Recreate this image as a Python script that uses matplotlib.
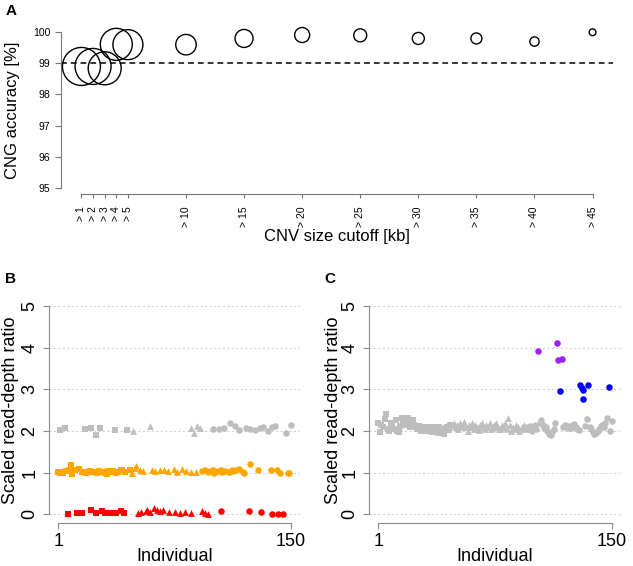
import numpy as np
import matplotlib
matplotlib.use("Agg")
import matplotlib.pyplot as plt

plt.rcParams['font.family'] = ['Liberation Sans', 'DejaVu Sans']

# ---- panel A data
cutoffs = [1, 2, 3, 4, 5, 10, 15, 20, 25, 30, 35, 40, 45]
accuracy = [98.90, 98.90, 98.84, 99.61, 99.60, 99.60, 99.80, 99.91, 99.90, 99.80, 99.80, 99.70, 100.0]
circle_px = [38, 36, 33, 32, 30, 20.5, 18, 15, 13, 12, 11, 9.3, 6.8]  # marker diameters in px
cutoff_labels = ['> 1', '> 2', '> 3', '> 4', '> 5', '> 10', '> 15', '> 20', '> 25',
                 '> 30', '> 35', '> 40', '> 45']

# ---- panel B data (gray = 2 copies, orange = 1, red = 0)
b_gray_sq_x = [2, 5, 18, 22, 25, 28, 37, 45]
b_gray_sq_y = [2.02, 2.08, 2.05, 2.07, 1.90, 2.08, 2.03, 2.03]
b_gray_tri_x = [49, 60, 86, 88, 90, 92]
b_gray_tri_y = [2.00, 2.12, 2.06, 1.96, 2.12, 2.06]
b_gray_ci_x = [100, 104, 107, 111, 114, 117, 121, 124, 127, 130, 132, 135, 138, 140, 147, 150]
b_gray_ci_y = [2.05, 2.05, 2.06, 2.20, 2.12, 2.02, 2.06, 2.05, 2.02, 2.06, 2.10, 2.00,
               2.09, 2.12, 1.96, 2.14]

b_orange_sq_x = [1, 2, 3, 4, 6, 8, 9, 10, 12, 14, 16, 19, 20, 21, 23, 26, 27, 29, 31, 32,
                 33, 34, 36, 38, 39, 41, 42, 44, 47]
b_orange_sq_y = [1.02, 1.00, 1.01, 1.00, 1.04, 1.06, 1.18, 0.96, 1.06, 1.09, 1.02, 1.00,
                 1.02, 1.04, 1.02, 1.00, 1.03, 1.02, 1.00, 0.96, 1.03, 1.02, 1.04, 1.00,
                 1.02, 1.06, 1.05, 1.02, 1.05]
b_orange_tri_x = [48, 50, 51, 53, 55, 61, 63, 66, 69, 71, 75, 77, 80, 83, 86, 89]
b_orange_tri_y = [0.98, 1.12, 1.16, 1.06, 1.03, 1.06, 1.04, 1.05, 1.06, 1.04, 1.08, 1.02,
                  1.08, 1.04, 1.02, 1.02]
b_orange_ci_x = [93, 95, 97, 98, 100, 101, 103, 105, 106, 108, 110, 112, 113, 115, 117, 119,
                 120, 124, 129, 137, 141, 143, 148, 149]
b_orange_ci_y = [1.03, 1.05, 1.02, 1.04, 1.06, 1.00, 1.03, 1.05, 1.02, 1.04, 1.02, 1.06,
                 1.03, 1.05, 1.08, 1.02, 1.00, 1.20, 1.05, 1.07, 1.07, 1.00, 0.99, 0.98]

b_red_sq_x = [7, 13, 15, 16, 22, 25, 29, 31, 34, 38, 41, 43]
b_red_sq_y = [0.00, 0.02, 0.04, 0.04, 0.10, 0.04, 0.07, 0.04, 0.02, 0.04, 0.07, 0.03]
b_red_tri_x = [52, 54, 57, 58, 60, 62, 64, 66, 68, 72, 76, 79, 82, 86, 93, 95, 97]
b_red_tri_y = [0.04, 0.06, 0.07, 0.10, 0.06, 0.14, 0.10, 0.08, 0.10, 0.06, 0.06, 0.04,
               0.06, 0.02, 0.08, 0.04, 0.01]
b_red_ci_x = [105, 123, 131, 138, 142, 145]
b_red_ci_y = [0.07, 0.09, 0.05, 0.00, 0.01, 0.00]

# ---- panel C data
c_gray_sq_y = [2.20, 1.98, 2.15, 2.10, 2.28, 2.40, 2.05, 2.00, 2.20, 2.15,
               2.05, 2.25, 2.00, 1.98, 2.12, 2.30, 2.20, 2.15, 2.25, 2.30,
               2.10, 2.20, 2.25, 2.15, 2.10, 2.05, 2.12, 2.00, 2.06, 2.10,
               2.05, 2.00, 2.10, 2.05, 1.98, 2.10, 2.02, 2.06, 1.95, 2.10,
               2.04, 2.00, 1.92, 2.06, 2.10, 2.02, 2.15]
c_gray_tri_y = [2.15, 2.20, 2.10, 2.15, 2.05, 2.20, 2.10, 2.15, 2.22, 2.10,
                2.00, 2.15, 2.10, 2.20, 2.05, 2.15, 2.10, 2.02, 2.15, 2.20,
                2.10, 2.05, 2.15, 2.10, 2.20, 2.05, 2.10, 2.15, 2.20, 2.10,
                2.05, 2.05, 2.15, 2.10, 2.20, 2.05, 2.30, 2.15, 2.00, 2.10,
                2.05, 2.15, 2.10, 2.00, 2.05, 2.10, 2.15, 2.05]
c_gray_ci_x = [96, 97, 98, 99, 100, 101, 102, 104, 105, 106,
               107, 108, 109, 110, 111, 112, 113, 114, 119, 120,
               121, 122, 123, 124, 125, 126, 127, 128, 129, 133,
               134, 136, 137, 138, 139, 140, 141, 142, 143, 144,
               145, 146, 147, 149, 150]
c_gray_ci_y = [2.10, 2.05, 2.12, 2.00, 2.08, 2.15, 2.05, 2.20, 2.26, 2.15,
               2.08, 2.10, 2.00, 1.93, 1.90, 1.97, 2.05, 2.20, 2.10, 2.15,
               2.12, 2.08, 2.11, 2.06, 2.13, 2.17, 2.10, 2.05, 2.02, 2.12,
               2.28, 2.10, 2.05, 1.98, 1.92, 1.96, 2.00, 2.05, 2.12, 2.15,
               2.10, 2.18, 2.32, 2.00, 2.24]
c_purple_x = [103, 115, 116, 118]
c_purple_y = [3.92, 4.12, 3.70, 3.73]
c_blue_x = [117, 130, 131, 132, 132, 135, 148]
c_blue_y = [2.95, 3.11, 3.03, 2.99, 2.76, 3.09, 3.05]

GRAY = '#BEBEBE'
ORANGE = '#FFA500'
RED = '#FF0000'
PURPLE = '#A020F0'
BLUE = '#0000FF'
AXC = '#8C8C8C'

W, H = 633, 566
fig = plt.figure(figsize=(W / 100, H / 100), dpi=100)


def px_axes(left, right, top, bottom):
    return fig.add_axes([left / W, 1 - bottom / H, (right - left) / W, (bottom - top) / H])


# ---------------- panel A
axA = px_axes(61, 613, 26, 194)
sizes = [(d * 0.72) ** 2 for d in circle_px]
axA.scatter(cutoffs, accuracy, s=sizes, facecolors='none', edgecolors='black', linewidths=1.0,
            zorder=3)
axA.axhline(99, color='black', lw=1.1, ls=(0, (3.8, 2.6)))
axA.set_xlim(-0.76, 46.76)
axA.set_ylim(94.8, 100.2)
for s in ['top', 'right']:
    axA.spines[s].set_visible(False)
axA.spines['left'].set_bounds(95, 100)
axA.spines['bottom'].set_bounds(1, 45)
for s in ['left', 'bottom']:
    axA.spines[s].set_color('#777777')
axA.set_yticks([95, 96, 97, 98, 99, 100])
axA.set_xticks(cutoffs)
axA.set_xticklabels(cutoff_labels, rotation=90, va='top')
axA.tick_params(axis='y', labelsize=7.5, length=4.5, width=0.8, color='#777777', pad=3)
axA.tick_params(axis='x', labelsize=7.5, length=3, width=0.8, color='#777777', pad=6)
axA.set_ylabel('CNG accuracy [%]', fontsize=12, va='center')
axA.yaxis.set_label_coords((12.5 - 61) / 552, 0.5)
axA.set_xlabel('CNV size cutoff [kb]', fontsize=12, va='center')
axA.xaxis.set_label_coords(0.5, (194 - 237) / 168)


def style_rd(ax):
    ax.set_xlim(-4.96, 155.96)
    ax.set_ylim(-0.2, 5.2)
    for s in ['top', 'right']:
        ax.spines[s].set_visible(False)
    ax.spines['left'].set_bounds(0, 5)
    ax.spines['bottom'].set_bounds(1, 150)
    for s in ['left', 'bottom']:
        ax.spines[s].set_color(AXC)
    for yv in [0, 1, 2, 3, 4, 5]:
        ax.axhline(yv, color='#D3D3D3', lw=0.8, ls=(0, (2, 2)), zorder=0)
    ax.set_yticks([0, 1, 2, 3, 4, 5])
    ax.set_xticks([1, 150])
    ax.tick_params(axis='y', labelsize=13, length=4.5, color=AXC, labelrotation=90, pad=3)
    ax.tick_params(axis='x', labelsize=13, length=4.5, color=AXC, pad=3)
    for lab in ax.get_yticklabels():
        lab.set_va('center')
    ax.set_ylabel('Scaled read-depth ratio', fontsize=13, va='center')
    ax.set_xlabel('Individual', fontsize=13, va='center')
    ax.xaxis.set_label_coords(0.5, (522.6 - 556.7) / 225.1)


# ---------------- panel B
axB = px_axes(49, 300.3, 297.5, 522.6)
style_rd(axB)
ms = 16
axB.scatter(b_gray_sq_x, b_gray_sq_y, marker='s', s=ms, color=GRAY, lw=0)
axB.scatter(b_gray_tri_x, b_gray_tri_y, marker='^', s=ms + 8, color=GRAY, lw=0)
axB.scatter(b_gray_ci_x, b_gray_ci_y, marker='o', s=ms + 6, color=GRAY, lw=0)
axB.scatter(b_orange_sq_x, b_orange_sq_y, marker='s', s=ms, color=ORANGE, lw=0)
axB.scatter(b_orange_tri_x, b_orange_tri_y, marker='^', s=ms + 8, color=ORANGE, lw=0)
axB.scatter(b_orange_ci_x, b_orange_ci_y, marker='o', s=ms + 6, color=ORANGE, lw=0)
axB.scatter(b_red_sq_x, b_red_sq_y, marker='s', s=ms, color=RED, lw=0)
axB.scatter(b_red_tri_x, b_red_tri_y, marker='^', s=ms + 8, color=RED, lw=0)
axB.scatter(b_red_ci_x, b_red_ci_y, marker='o', s=ms + 6, color=RED, lw=0)
axB.yaxis.set_label_coords((11 - 49) / 251.3, 0.5)

# ---------------- panel C
axC = px_axes(369, 621, 297.5, 522.6)
style_rd(axC)
c_sq_x = np.arange(1, len(c_gray_sq_y) + 1)
c_tri_x = np.arange(len(c_gray_sq_y) + 1, len(c_gray_sq_y) + len(c_gray_tri_y) + 1)
axC.scatter(c_sq_x, c_gray_sq_y, marker='s', s=ms, color=GRAY, lw=0)
axC.scatter(c_tri_x, c_gray_tri_y, marker='^', s=ms + 8, color=GRAY, lw=0)
axC.scatter(c_gray_ci_x, c_gray_ci_y, marker='o', s=ms + 6, color=GRAY, lw=0)
axC.scatter(c_purple_x, c_purple_y, marker='o', s=ms + 6, color=PURPLE, lw=0)
axC.scatter(c_blue_x, c_blue_y, marker='o', s=ms + 6, color=BLUE, lw=0)
axC.yaxis.set_label_coords((334 - 369) / 252, 0.5)

# panel letters
fig.text(11 / W, 1 - 11 / H, 'A', fontsize=11, fontweight='bold', ha='center', va='center')
fig.text(10 / W, 1 - 279 / H, 'B', fontsize=11, fontweight='bold', ha='center', va='center')
fig.text(330 / W, 1 - 279 / H, 'C', fontsize=11, fontweight='bold', ha='center', va='center')

fig.savefig('out.png', dpi=100)
